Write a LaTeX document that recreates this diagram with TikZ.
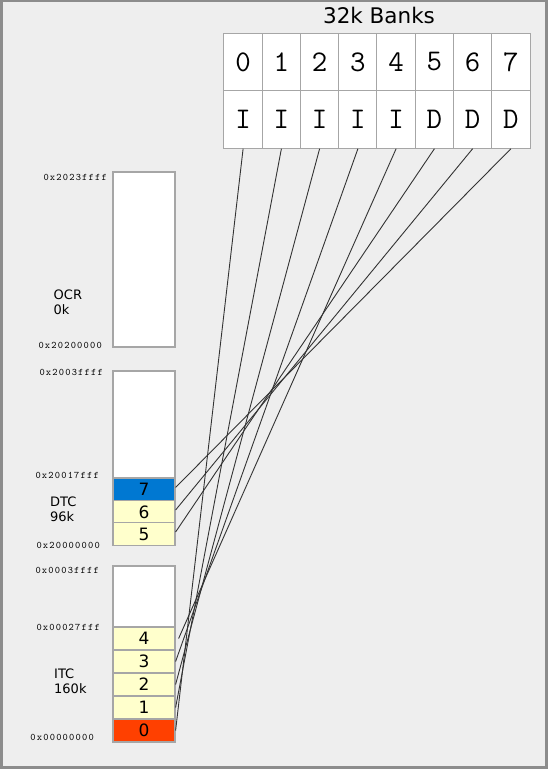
\documentclass[tikz,border=0pt]{standalone}
\usepackage{fontspec}
\setmainfont{DejaVu Sans}
\newcommand{\bankfont}{\ttfamily}
\newfontfamily\addrfont[LetterSpace=12]{Latin Modern Mono}
\usepackage{tikz}
\definecolor{panel}{HTML}{EEEEEE}
\definecolor{frame}{HTML}{8C8C8C}
\definecolor{cellgray}{HTML}{A6A6A6}
\definecolor{itcyellow}{HTML}{FFFFCC}
\definecolor{dtcblue}{HTML}{0078D2}
\definecolor{bankred}{HTML}{FF4000}
\tikzstyle{bankcell} = [draw=cellgray, fill=white, line width=1pt,
rectangle, inner sep=0pt, minimum width=38.25pt, minimum height=57.5pt,
font=\fontsize{30}{30}\bankfont]
\tikzstyle{membox} = [draw=cellgray, fill=white, line width=1.2pt,
rectangle, inner sep=0pt, minimum width=62pt]
\tikzstyle{memcell} = [draw=cellgray, fill=itcyellow, line width=1.2pt,
rectangle, inner sep=0pt, minimum width=62pt, minimum height=23pt,
font=\fontsize{17}{17}\selectfont]
\tikzstyle{addr} = [anchor=east, inner sep=0pt, font=\fontsize{10}{10}\addrfont]
\tikzstyle{region} = [anchor=north west, inner sep=0pt, align=left,
font=\fontsize{13}{15}\selectfont]
\tikzstyle{wire} = [draw=black!80, line width=0.9pt]

\begin{document}
\begin{tikzpicture}[x=1pt, y=-1pt]
		% frame
		\useasboundingbox (0,0) rectangle (549,769);
		\draw[fill=panel, draw=frame, line width=2.5pt] (1.25,1) rectangle (546.5,767.5);
		\node [font=\fontsize{21.5}{21.5}\selectfont, inner sep=0pt] (title) at (379,15) {32k Banks};
		% banks
		\node [bankcell] (bank0) at (243.1,62) {0};
		\node [bankcell] (bank1) at (281.4,62) {1};
		\node [bankcell] (bank2) at (319.6,62) {2};
		\node [bankcell] (bank3) at (357.9,62) {3};
		\node [bankcell] (bank4) at (396.1,62) {4};
		\node [bankcell] (bank5) at (434.4,62) {5};
		\node [bankcell] (bank6) at (472.6,62) {6};
		\node [bankcell] (bank7) at (510.9,62) {7};
		\node [bankcell] (type0) at (243.1,119.5) {I};
		\node [bankcell] (type1) at (281.4,119.5) {I};
		\node [bankcell] (type2) at (319.6,119.5) {I};
		\node [bankcell] (type3) at (357.9,119.5) {I};
		\node [bankcell] (type4) at (396.1,119.5) {I};
		\node [bankcell] (type5) at (434.4,119.5) {D};
		\node [bankcell] (type6) at (472.6,119.5) {D};
		\node [bankcell] (type7) at (510.9,119.5) {D};
		% OCR
		\node [membox, minimum height=175pt] (ocr) at (144,259.5) {};
		\node [addr] (ocrtop) at (107,177) {0x2023ffff};
		\node [addr] (ocrbot) at (102,345.5) {0x20200000};
		\node [region] (ocrname) at (53.5,290) {OCR\\0k};
		% DTC
		\node [membox, minimum height=174pt] (dtc) at (144,458) {};
		\node [memcell, fill=dtcblue] (dtc7) at (144,489.5) {7};
		\node [memcell] (dtc6) at (144,512) {6};
		\node [memcell] (dtc5) at (144,534) {5};
		\node [addr] (dtctop) at (103,372.5) {0x2003ffff};
		\node [addr] (dtcmid) at (99,475.5) {0x20017fff};
		\node [addr] (dtcbot) at (100,545.5) {0x20000000};
		\node [region] (dtcname) at (50,497) {DTC\\96k};
		% ITC
		\node [membox, minimum height=176pt] (itc) at (144,654) {};
		\node [memcell] (itc4) at (144,638.5) {4};
		\node [memcell] (itc3) at (144,661.5) {3};
		\node [memcell] (itc2) at (144,684.5) {2};
		\node [memcell] (itc1) at (144,707.5) {1};
		\node [memcell, fill=bankred] (itc0) at (144,730.5) {0};
		\node [addr] (itctop) at (99,570.5) {0x0003ffff};
		\node [addr] (itcmid) at (100,627.5) {0x00027fff};
		\node [addr] (itcbot) at (94,737.5) {0x00000000};
		\node [region] (itcname) at (54,669) {ITC\\160k};
		% wires
		\draw [wire] (type0.south) -- (itc0.east);
		\draw [wire] (type1.south) -- (itc1.east);
		\draw [wire] (type2.south) -- (itc2.east);
		\draw [wire] (type3.south) -- (itc3.east);
		\draw [wire] (type4.south) -- ([xshift=3pt]itc4.east);
		\draw [wire] (type5.south) -- ([yshift=2pt]dtc5.east);
		\draw [wire] (type6.south) -- ([yshift=2pt]dtc6.east);
		\draw [wire] (type7.south) -- ([yshift=2pt]dtc7.east);
		\end{tikzpicture}
\end{document}
